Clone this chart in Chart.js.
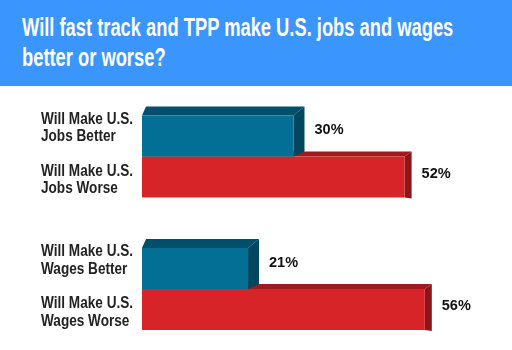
<!DOCTYPE html>
<html>
<head>
<meta charset="utf-8">
<script src="https://cdn.jsdelivr.net/npm/chart.js@4"></script>
<style>
  html, body { margin: 0; padding: 0; background: #fff; overflow: hidden; }
  #wrap { position: relative; width: 512px; height: 350px; overflow: hidden; }
  #header {
    position: absolute; left: 0; top: 0; width: 512px; height: 86px;
    background: #3a95fd; color: #fff;
    font-family: "Liberation Sans", Arial, sans-serif;
    font-weight: bold; font-size: 25px; line-height: 30px;
  }
  #title { position: absolute; left: 22px; top: 12px; white-space: nowrap; transform-origin: 0 0; }
  #box { position: absolute; left: 0; top: 86px; width: 512px; height: 274px; }
</style>
</head>
<body>
<div id="wrap">
  <div id="header"><div id="title"><span id="line1">Will fast track and TPP make U.S. jobs and wages</span><br>better or worse?</div></div>
  <div id="box"><canvas id="chart" width="512" height="274"></canvas></div>
</div>
<script>
const categories = ['Jobs', 'Wages'];
const seriesNames = ['Better', 'Worse'];
const betterValues = [30, 21];
const worseValues = [52, 56];

// condensed look: squeeze the title horizontally
const line1 = document.getElementById('line1');
document.getElementById('title').style.transform = 'scaleX(' + (431 / line1.offsetWidth) + ')';

const labelFont = 'bold 16px "Liberation Sans", Arial, sans-serif';
const valueFont = 'bold 14.5px "Liberation Sans", Arial, sans-serif';

// fake 3D: top and side faces drawn behind the front bars
const extrude = {
  id: 'extrude',
  beforeDatasetsDraw(chart) {
    const ctx = chart.ctx;
    for (let i = chart.data.datasets.length - 1; i >= 0; i--) {
      const ds = chart.data.datasets[i];
      const d = ds.depth;
      chart.getDatasetMeta(i).data.forEach(bar => {
        const top = bar.y - bar.height / 2;
        const bottom = bar.y + bar.height / 2;
        const l = bar.base, r = bar.x;
        ctx.save();
        ctx.fillStyle = ds.topColor;
        ctx.beginPath();
        ctx.moveTo(l, top);
        ctx.lineTo(l + d.dxLeft, top - d.dyTop);
        ctx.lineTo(r + d.dx, top - d.dyTop);
        ctx.lineTo(r, top);
        ctx.closePath();
        ctx.fill();
        ctx.fillStyle = ds.sideColor;
        ctx.beginPath();
        ctx.moveTo(r, top);
        ctx.lineTo(r + d.dx, top - d.dyTop);
        ctx.lineTo(r + d.dx, bottom - d.dyBottom);
        ctx.lineTo(r, bottom);
        ctx.closePath();
        ctx.fill();
        ctx.restore();
      });
    }
  },
  afterDatasetsDraw(chart) {
    const ctx = chart.ctx;
    const yScale = chart.scales.y;
    ctx.save();
    // value labels
    ctx.font = valueFont;
    ctx.textBaseline = 'middle';
    ctx.textAlign = 'left';
    ctx.fillStyle = '#111';
    chart.data.datasets.forEach((ds, i) => {
      const d = ds.depth;
      chart.getDatasetMeta(i).data.forEach((bar, j) => {
        ctx.fillText(ds.data[j] + '%', bar.x + d.dx + 10, bar.y - d.dyTop / 2 - 1);
      });
    });
    // category labels, two lines each, left of the bars
    ctx.font = labelFont;
    ctx.textBaseline = 'alphabetic';
    ctx.fillStyle = '#222';
    categories.forEach((cat, j) => {
      const cy = yScale.getPixelForValue(j);
      seriesNames.forEach((s, i) => {
        const y = cy + (i === 0 ? -33 : 19);
        ctx.save();
        ctx.translate(41, 0);
        ctx.scale(0.85, 1);
        ctx.fillText('Will Make U.S.', 0, y);
        ctx.fillText(cat + ' ' + s, 0, y + 17.5);
        ctx.restore();
      });
    });
    ctx.restore();
  }
};

new Chart(document.getElementById('chart'), {
  type: 'bar',
  data: {
    labels: categories,
    datasets: [{
      label: seriesNames[0],
      data: betterValues,
      backgroundColor: '#036f95',
      topColor: '#024f6c',
      sideColor: '#024760',
      depth: { dx: 11, dxLeft: 4, dyTop: 9, dyBottom: 5 }
    }, {
      label: seriesNames[1],
      data: worseValues,
      backgroundColor: '#d62429',
      topColor: '#a0191e',
      sideColor: '#8e161a',
      depth: { dx: 7, dxLeft: 4, dyTop: 5, dyBottom: -1 }
    }]
  },
  options: {
    indexAxis: 'y',
    responsive: false,
    animation: false,
    categoryPercentage: 0.619,
    barPercentage: 1,
    layout: { padding: { left: 142, right: 16.5, top: 4.25, bottom: 4.75 } },
    scales: {
      x: { display: false, min: 0, max: 70 },
      y: { display: false }
    },
    plugins: {
      legend: { display: false },
      tooltip: { enabled: false }
    }
  },
  plugins: [extrude]
});
</script>
</body>
</html>
